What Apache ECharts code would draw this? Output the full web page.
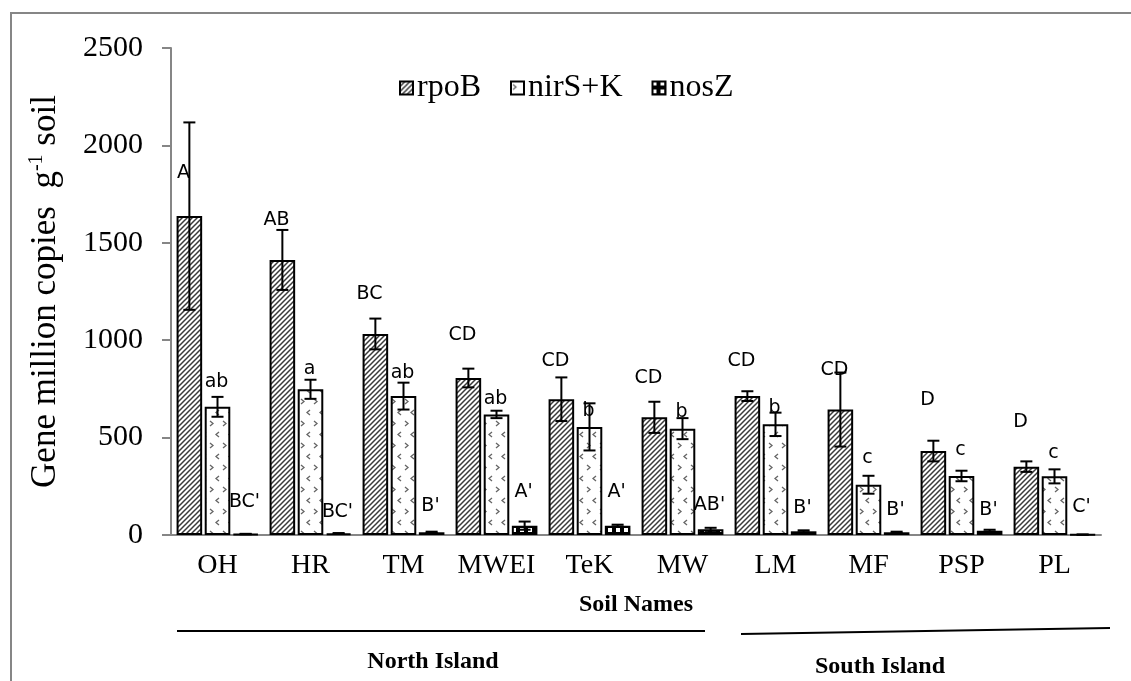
<!DOCTYPE html>
<html><head><meta charset="utf-8">
<script src="https://cdn.jsdelivr.net/npm/echarts@6/dist/echarts.min.js"></script>
<style>html,body{margin:0;padding:0;background:#fff}#c{width:1131px;height:681px}</style>
</head><body><div id="c"></div>
<script>
const categories = ['OH','HR','TM','MWEI','TeK','MW','LM','MF','PSP','PL'];
const rpoB     = [1637, 1412, 1032, 806, 697, 604, 713, 644, 431, 351];
const rpoBErr  = [481, 154, 79, 48, 112, 80, 25, 190, 53, 27];
const nirSK    = [658, 748, 713, 619, 555, 546, 568, 258, 303, 301];
const nirSKErr = [51, 49, 69, 19, 121, 54, 60, 46, 27, 36];
const nosZ     = [5, 8, 14, 48, 48, 29, 19, 14, 22, 2];
const nosZErr  = [1, 2, 3, 21, 5, 8, 5, 3, 5, 0];
const rpoBLetters  = ['A','AB','BC','CD','CD','CD','CD','CD','D','D'];
const rpoBLetterY  = [1858, 1617, 1237, 1027, 893, 806, 895, 847, 693, 582];
const nirSKLetters = ['ab','a','ab','ab','b','b','b','c','c','c'];
const nirSKLetterY = [787, 850, 833, 697, 636, 630, 650, 394, 436, 419];
const nosZLetters  = ["BC'","BC'","B'","A'","A'","AB'","B'","B'","B'","C'"];
const nosZLetterY  = [171, 120, 149, 219, 222, 154, 137, 128, 128, 145];
const yTicks = {min: 0, max: 2500, interval: 500};

function mk(w, h, draw) {
  const c = document.createElement('canvas'); c.width = w; c.height = h;
  const g = c.getContext('2d'); g.fillStyle = '#fff'; g.fillRect(0, 0, w, h); draw(g); return c;
}
const hatch = mk(5, 5, g => {
  g.strokeStyle = '#3a3a3a'; g.lineWidth = 1.5;
  g.beginPath(); g.moveTo(-1, 6); g.lineTo(6, -1); g.moveTo(-1, 1); g.lineTo(1, -1); g.moveTo(4, 6); g.lineTo(6, 4); g.stroke();
});
const chev = mk(13, 22, g => {
  g.strokeStyle = '#666'; g.lineWidth = 1.3;
  g.beginPath(); g.moveTo(2, 3); g.lineTo(5, 5.5); g.lineTo(2, 8); g.stroke();
  g.beginPath(); g.moveTo(11, 14); g.lineTo(8, 16.5); g.lineTo(11, 19); g.stroke();
});
const check = mk(8, 8, g => {
  g.fillStyle = '#000'; g.fillRect(0, 0, 8, 8); g.fillStyle = '#fff'; g.fillRect(0, 0, 4, 4);
});

const serif = 'Liberation Serif';
const barSeries = [
  {name: 'rpoB', data: rpoB, pat: hatch},
  {name: 'nirS+K', data: nirSK, pat: chev},
  {name: 'nosZ', data: nosZ, pat: check}
].map(s => ({
  name: s.name, type: 'bar', data: s.data, barGap: '10%', barCategoryGap: '12%',
  itemStyle: {color: {image: s.pat, repeat: 'repeat'}, borderColor: '#000', borderWidth: 2},
  emphasis: {disabled: true}
}));

function errSeries(vals, errs, k) {
  return {
    type: 'custom', name: 'err' + k, z: 5, silent: true,
    data: vals.map((v, i) => [i, v - errs[i], v + errs[i]]),
    renderItem: (params, api) => {
      const band = api.size([1, 0])[0];
      const off = band * 0.88 / 3.2 * 1.1 * k;
      const lo = api.coord([api.value(0), api.value(1)]);
      const hi = api.coord([api.value(0), api.value(2)]);
      const x = lo[0] + off, cw = 6;
      const st = {stroke: '#000', lineWidth: 2};
      return {type: 'group', children: [
        {type: 'line', shape: {x1: x, y1: lo[1], x2: x, y2: hi[1]}, style: st},
        {type: 'line', shape: {x1: x - cw, y1: hi[1], x2: x + cw, y2: hi[1]}, style: st},
        {type: 'line', shape: {x1: x - cw, y1: lo[1], x2: x + cw, y2: lo[1]}, style: st}
      ]};
    }
  };
}
function letterSeries(ys, letters, dx) {
  return {
    type: 'scatter', name: 'lbl' + dx, symbolSize: 0, silent: true, z: 6,
    data: ys.map((y, i) => [i, y]),
    label: {show: true, position: 'inside', offset: [dx, 0], color: '#000', opacity: 1,
      fontFamily: 'DejaVu Sans', fontSize: 19, formatter: p => letters[p.dataIndex]}
  };
}

const chart = echarts.init(document.getElementById('c'));
chart.setOption({
  animation: false,
  backgroundColor: '#fff',
  grid: {left: 171, right: 30, top: 48, bottom: 146},
  legend: {
    data: ['rpoB', 'nirS+K', 'nosZ'], selectedMode: false, left: 394, top: 67,
    itemWidth: 13, itemHeight: 13, itemGap: 29, icon: 'rect',
    textStyle: {fontFamily: serif, fontSize: 32, color: '#000', padding: [0, 0, 0, -1]}
  },
  xAxis: {
    type: 'category', data: categories,
    axisLine: {lineStyle: {color: '#868686', width: 2}}, axisTick: {show: false},
    axisLabel: {interval: 0, fontFamily: serif, fontSize: 28, color: '#000', margin: 17},
    name: 'Soil Names', nameLocation: 'middle', nameGap: 58,
    nameTextStyle: {fontFamily: serif, fontSize: 24, fontWeight: 'bold', color: '#000'}
  },
  yAxis: {
    type: 'value', min: yTicks.min, max: yTicks.max, interval: yTicks.interval,
    axisLine: {show: true, lineStyle: {color: '#868686', width: 2}},
    axisTick: {show: true, length: 9, lineStyle: {color: '#868686', width: 2}},
    splitLine: {show: false},
    axisLabel: {fontFamily: serif, fontSize: 30, color: '#000', margin: 28, formatter: v => String(v)},
    name: '{n|Gene million copies  g}{s|-1}{n| soil}', nameLocation: 'middle', nameGap: 106, nameRotate: 90,
    nameTextStyle: {rich: {
      n: {fontFamily: serif, fontSize: 35, color: '#000', lineHeight: 38},
      s: {fontFamily: serif, fontSize: 20, color: '#000', verticalAlign: 'top', lineHeight: 38, padding: [0, 0, 14, 0]}
    }}
  },
  series: [
    ...barSeries,
    errSeries(rpoB, rpoBErr, -1), errSeries(nirSK, nirSKErr, 0), errSeries(nosZ, nosZErr, 1),
    letterSeries(rpoBLetterY, rpoBLetters, -34), letterSeries(nirSKLetterY, nirSKLetters, -1), letterSeries(nosZLetterY, nosZLetters, 27)
  ],
  graphic: [
    {type: 'rect', shape: {x: 11, y: 13, width: 1130, height: 700}, style: {fill: null, stroke: '#868686', lineWidth: 2}, silent: true},
    {type: 'line', shape: {x1: 177, y1: 631, x2: 705, y2: 631}, style: {stroke: '#000', lineWidth: 2}},
    {type: 'line', shape: {x1: 741, y1: 634, x2: 1110, y2: 628}, style: {stroke: '#000', lineWidth: 2}},
    {type: 'text', x: 433, y: 662, style: {text: 'North Island', fontFamily: serif, fontSize: 24, fontWeight: 'bold', fill: '#000', textAlign: 'center', textVerticalAlign: 'middle'}},
    {type: 'text', x: 880, y: 667, style: {text: 'South Island', fontFamily: serif, fontSize: 24, fontWeight: 'bold', fill: '#000', textAlign: 'center', textVerticalAlign: 'middle'}}
  ]
});
</script></body></html>
